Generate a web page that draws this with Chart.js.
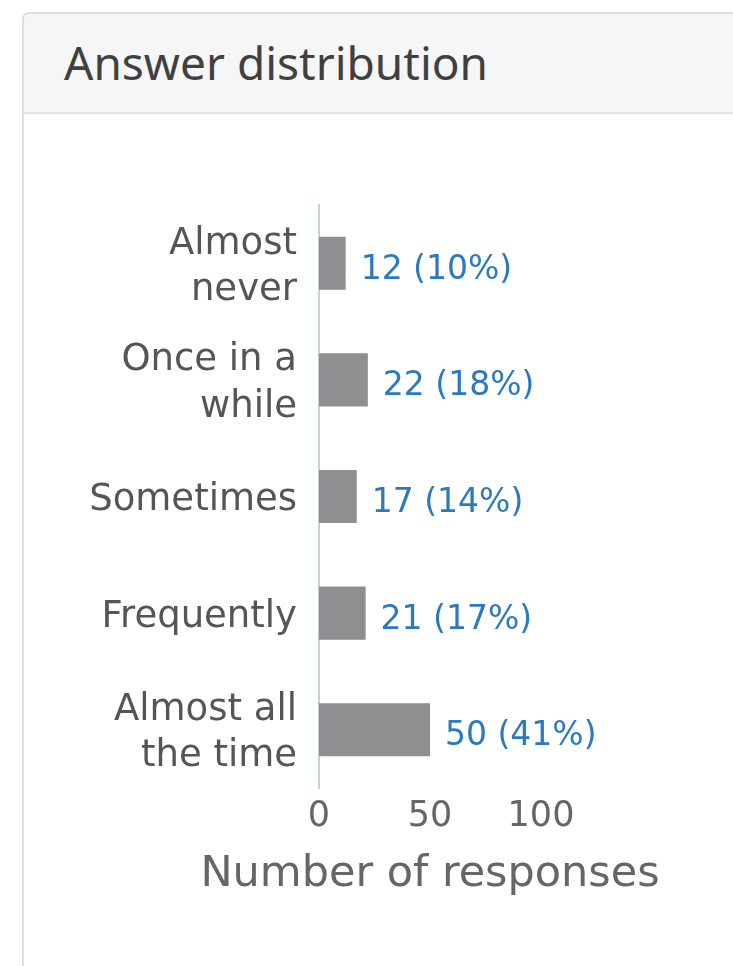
<!DOCTYPE html>
<html>
<head>
<meta charset="utf-8">
<script src="https://cdn.jsdelivr.net/npm/chart.js@4/dist/chart.umd.min.js"></script>
<style>
  html, body { margin: 0; padding: 0; background: #ffffff; width: 733px; height: 966px; overflow: hidden; }
  .panel {
    position: absolute; left: 22px; top: 12px; width: 760px; height: 1000px;
    border: 2px solid #dedede; border-radius: 7px; background: #ffffff; box-sizing: border-box;
  }
  .panel-head {
    height: 100px; background: #f6f6f6; border-bottom: 2px solid #e6e6e6; border-radius: 6px 0 0 0;
    box-sizing: border-box;
  }
  .panel-head h2 {
    margin: 0; padding-left: 40px; font-family: "Noto Sans", sans-serif; font-weight: normal;
    font-size: 46px; line-height: 96px; color: #404040;
  }
  #chart { position: absolute; left: 0; top: 0; }
</style>
</head>
<body>
<div class="panel"><div class="panel-head"><h2>Answer distribution</h2></div></div>
<canvas id="chart" width="733" height="966"></canvas>
<script>
// Survey answers: categories, response counts and their shares
const categories = [
  ['Almost', 'never'],
  ['Once in a', 'while'],
  'Sometimes',
  'Frequently',
  ['Almost all', 'the time']
];
const responses = [12, 22, 17, 21, 50];
const percents = [10, 18, 14, 17, 41];
const xTicks = [0, 50, 100];
const xTitle = 'Number of responses';

const FONT = '"DejaVu Sans", sans-serif';

// Writes "count (share%)" just past the end of each bar
const valueLabels = {
  id: 'valueLabels',
  afterDatasetsDraw(chart) {
    const ctx = chart.ctx;
    const meta = chart.getDatasetMeta(0);
    ctx.save();
    ctx.font = '33px ' + FONT;
    ctx.fillStyle = '#2b79bf';
    ctx.textAlign = 'left';
    ctx.textBaseline = 'middle';
    meta.data.forEach((bar, i) => {
      ctx.fillText(responses[i] + ' (' + percents[i] + '%)', bar.x + 15, bar.y + 7);
    });
    ctx.restore();
  }
};

// Axis title drawn at full width, centred under the value axis
const axisTitle = {
  id: 'axisTitle',
  afterDraw(chart) {
    const ctx = chart.ctx;
    const x = chart.scales.x;
    ctx.save();
    ctx.font = '43px ' + FONT;
    ctx.fillStyle = '#666666';
    ctx.textAlign = 'center';
    ctx.textBaseline = 'middle';
    ctx.fillText(xTitle, (x.left + x.right) / 2, x.top + 87);
    ctx.restore();
  }
};

new Chart(document.getElementById('chart'), {
  type: 'bar',
  data: {
    labels: categories,
    datasets: [{
      data: responses,
      backgroundColor: '#8f8f92',
      borderWidth: 0,
      categoryPercentage: 1,
      barPercentage: 0.455
    }]
  },
  options: {
    indexAxis: 'y',
    responsive: false,
    animation: false,
    events: [],
    layout: { padding: { top: 205, left: 0, right: 192, bottom: 58 } },
    plugins: { legend: { display: false }, tooltip: { enabled: false } },
    scales: {
      x: {
        min: 0,
        max: 100,
        afterFit(scale) { scale.height = 120; },
        afterBuildTicks(scale) { scale.ticks = xTicks.map(v => ({ value: v })); },
        grid: { display: false, drawTicks: false },
        border: { display: false },
        ticks: {
          color: '#666666',
          padding: 8,
          font: { family: FONT, size: 35 }
        },
        title: { display: false }
      },
      y: {
        afterFit(scale) { scale.width = 319; },
        grid: { display: false, drawTicks: false },
        border: { display: true, color: '#c3d0e0', width: 2 },
        ticks: {
          color: '#555555',
          padding: 22,
          labelOffset: 4,
          font: { family: FONT, size: 37, lineHeight: 1.25 }
        }
      }
    }
  },
  plugins: [valueLabels, axisTitle]
});
</script>
</body>
</html>
